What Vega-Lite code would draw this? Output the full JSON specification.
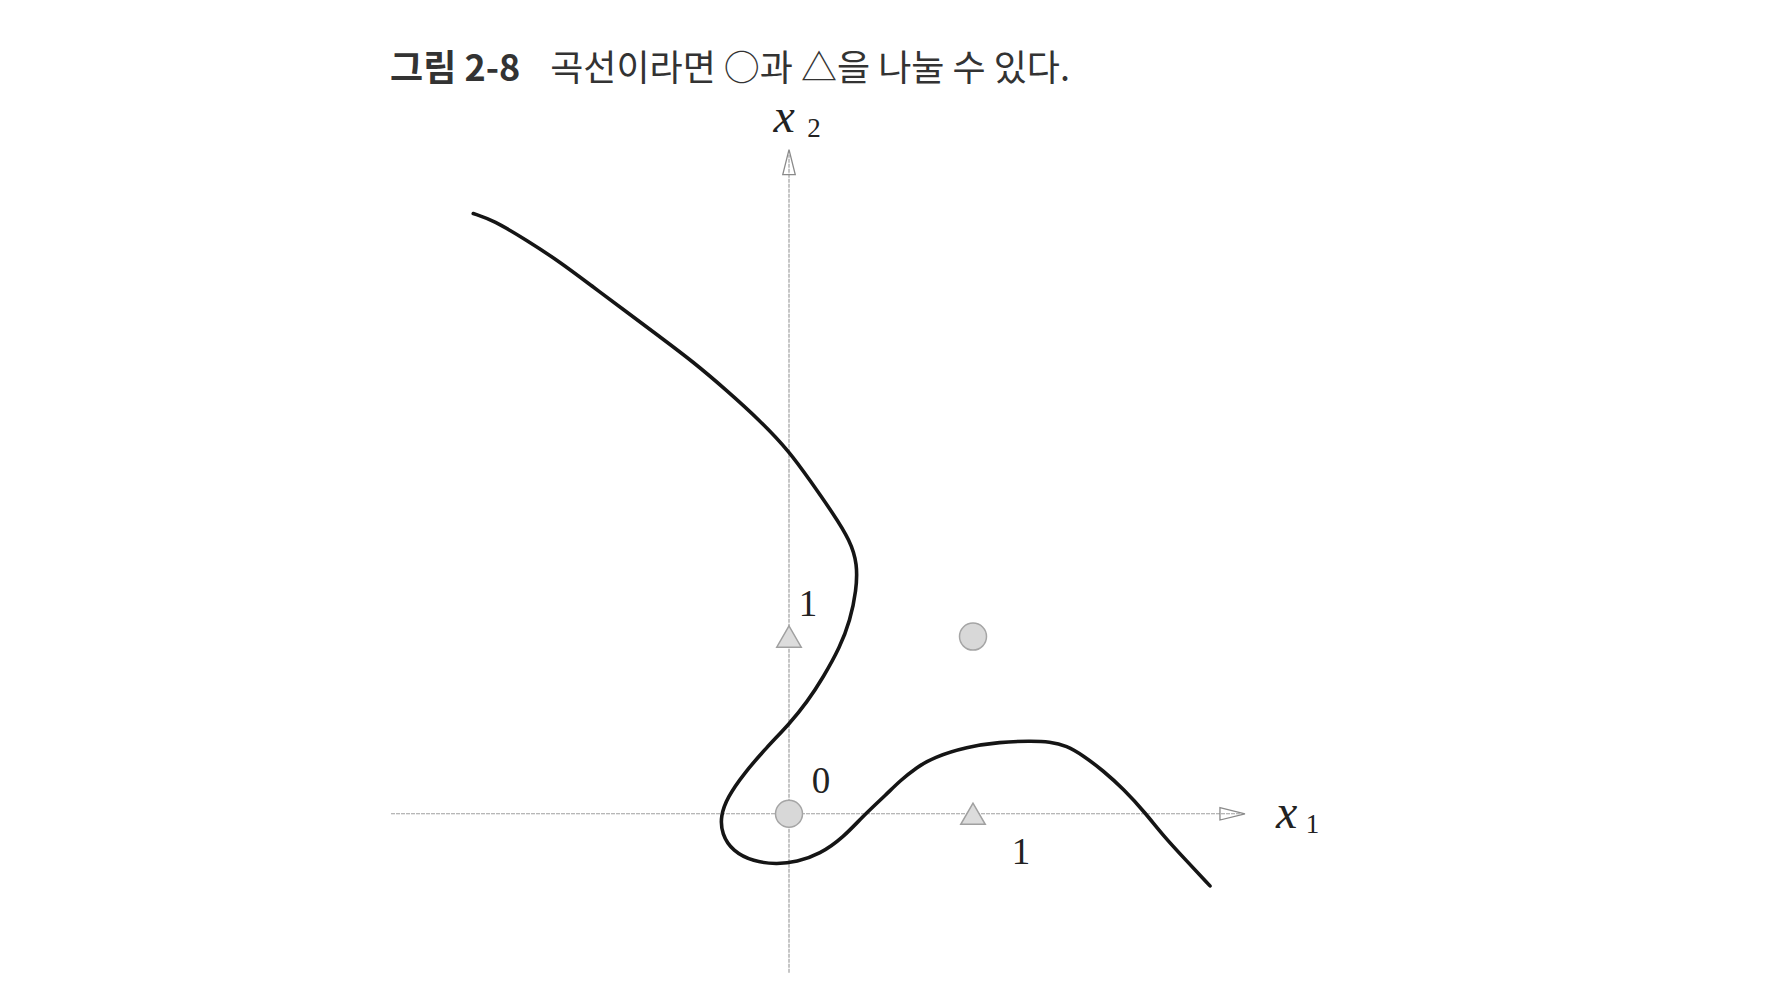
{
  "$schema": "https://vega.github.io/schema/vega-lite/v6.json",
  "width": 1776,
  "height": 992,
  "padding": 0,
  "autosize": {"type": "fit", "contains": "padding"},
  "background": "white",
  "config": {"view": {"stroke": null}},
  "datasets": {
    "curve": [
      {"i": 1, "x": -1.716, "y": 3.388},
      {"i": 2, "x": -1.607, "y": 3.350},
      {"i": 3, "x": -1.426, "y": 3.237},
      {"i": 4, "x": -1.245, "y": 3.115},
      {"i": 5, "x": -1.064, "y": 2.973},
      {"i": 6, "x": -0.882, "y": 2.832},
      {"i": 7, "x": -0.701, "y": 2.691},
      {"i": 8, "x": -0.520, "y": 2.550},
      {"i": 9, "x": -0.339, "y": 2.390},
      {"i": 10, "x": -0.158, "y": 2.220},
      {"i": 11, "x": 0.005, "y": 2.041},
      {"i": 12, "x": 0.114, "y": 1.881},
      {"i": 13, "x": 0.241, "y": 1.693},
      {"i": 14, "x": 0.332, "y": 1.542},
      {"i": 15, "x": 0.372, "y": 1.410},
      {"i": 16, "x": 0.366, "y": 1.260},
      {"i": 17, "x": 0.332, "y": 1.090},
      {"i": 18, "x": 0.277, "y": 0.940},
      {"i": 19, "x": 0.186, "y": 0.770},
      {"i": 20, "x": 0.098, "y": 0.630},
      {"i": 21, "x": 0.002, "y": 0.507},
      {"i": 22, "x": -0.121, "y": 0.375},
      {"i": 23, "x": -0.248, "y": 0.224},
      {"i": 24, "x": -0.335, "y": 0.092},
      {"i": 25, "x": -0.372, "y": -0.011},
      {"i": 26, "x": -0.366, "y": -0.115},
      {"i": 27, "x": -0.306, "y": -0.212},
      {"i": 28, "x": -0.194, "y": -0.270},
      {"i": 29, "x": -0.067, "y": -0.285},
      {"i": 30, "x": 0.042, "y": -0.272},
      {"i": 31, "x": 0.168, "y": -0.228},
      {"i": 32, "x": 0.295, "y": -0.134},
      {"i": 33, "x": 0.404, "y": -0.011},
      {"i": 34, "x": 0.531, "y": 0.111},
      {"i": 35, "x": 0.603, "y": 0.186},
      {"i": 36, "x": 0.694, "y": 0.262},
      {"i": 37, "x": 0.784, "y": 0.318},
      {"i": 38, "x": 0.966, "y": 0.378},
      {"i": 39, "x": 1.147, "y": 0.405},
      {"i": 40, "x": 1.310, "y": 0.411},
      {"i": 41, "x": 1.418, "y": 0.407},
      {"i": 42, "x": 1.509, "y": 0.384},
      {"i": 43, "x": 1.599, "y": 0.328},
      {"i": 44, "x": 1.708, "y": 0.243},
      {"i": 45, "x": 1.817, "y": 0.140},
      {"i": 46, "x": 1.935, "y": 0.007},
      {"i": 47, "x": 2.034, "y": -0.124},
      {"i": 48, "x": 2.161, "y": -0.266},
      {"i": 49, "x": 2.288, "y": -0.407}
    ],
    "circles": [{"x": 0, "y": 0}, {"x": 1, "y": 1}],
    "triangles": [{"x": 0, "y": 1}, {"x": 1, "y": 0}],
    "numbers": [
      {"label": "1", "x": 0.103, "y": 1.119},
      {"label": "0", "x": 0.174, "y": 0.119},
      {"label": "1", "x": 1.261, "y": -0.282}
    ],
    "vars": [
      {"label": "x", "x": 2.704, "y": -0.079},
      {"label": "x", "x": -0.027, "y": 3.847}
    ],
    "subs": [
      {"label": "1", "x": 2.845, "y": -0.107},
      {"label": "2", "x": 0.136, "y": 3.819}
    ]
  },
  "encoding": {
    "x": {"field": "x", "type": "quantitative", "scale": {"domain": [-4.288, 5.364], "nice": false, "zero": false}, "axis": null},
    "y": {"field": "y", "type": "quantitative", "scale": {"domain": [-1.006, 4.593], "nice": false, "zero": false}, "axis": null}
  },
  "layer": [
    {
      "data": {"values": [{"x": -2.163, "x2": 2.45, "y": 0}]},
      "mark": {"type": "rule", "color": "#a0a0a0", "strokeWidth": 1.2, "strokeDash": [4, 1]},
      "encoding": {"x2": {"field": "x2"}}
    },
    {
      "data": {"values": [{"x": 0, "y": -0.898, "y2": 3.72}]},
      "mark": {"type": "rule", "color": "#a0a0a0", "strokeWidth": 1.2, "strokeDash": [4, 1]},
      "encoding": {"y2": {"field": "y2"}}
    },
    {
      "data": {"values": [{"x": 2.41, "y": 0}]},
      "mark": {"type": "point", "shape": "M-1,-0.5L1,0L-1,0.5Z", "size": 625, "filled": false, "stroke": "#8a8a8a", "strokeWidth": 1.3, "opacity": 1}
    },
    {
      "data": {"values": [{"x": 0, "y": 3.678}]},
      "mark": {"type": "point", "shape": "M-0.5,1L0,-1L0.5,1Z", "size": 625, "filled": false, "stroke": "#8a8a8a", "strokeWidth": 1.3, "opacity": 1}
    },
    {
      "data": {"name": "curve"},
      "mark": {"type": "line", "interpolate": "basis", "color": "#151515", "strokeWidth": 3.6, "strokeCap": "round"},
      "encoding": {"order": {"field": "i", "type": "quantitative"}}
    },
    {
      "data": {"name": "circles"},
      "mark": {"type": "point", "shape": "circle", "size": 729, "filled": true, "fill": "#d8d8d8", "stroke": "#a5a5a5", "strokeWidth": 1.5, "opacity": 1}
    },
    {
      "data": {"name": "triangles"},
      "mark": {"type": "point", "shape": "triangle-up", "size": 600, "filled": true, "fill": "#dcdcdc", "stroke": "#a0a0a0", "strokeWidth": 1.5, "opacity": 1}
    },
    {
      "data": {"name": "numbers"},
      "mark": {"type": "text", "font": "Liberation Serif", "fontSize": 37, "color": "#222", "align": "center", "baseline": "alphabetic"},
      "encoding": {"text": {"field": "label"}}
    },
    {
      "data": {"name": "vars"},
      "mark": {"type": "text", "font": "Liberation Serif", "fontStyle": "italic", "fontSize": 48, "color": "#222", "align": "center", "baseline": "alphabetic"},
      "encoding": {"text": {"field": "label"}}
    },
    {
      "data": {"name": "subs"},
      "mark": {"type": "text", "font": "Liberation Serif", "fontSize": 27, "color": "#222", "align": "center", "baseline": "alphabetic"},
      "encoding": {"text": {"field": "label"}}
    },
    {
      "data": {"values": [{"label": "그림 2-8", "x": -2.168, "y": 4.138}]},
      "mark": {"type": "text", "font": "Noto Sans CJK KR", "fontWeight": "bold", "fontSize": 36, "color": "#333", "align": "left", "baseline": "alphabetic"},
      "encoding": {"text": {"field": "label"}}
    },
    {
      "data": {"values": [{"label": "곡선이라면 ○과 △을 나눌 수 있다.", "x": -1.298, "y": 4.138}]},
      "mark": {"type": "text", "font": "Noto Sans CJK KR", "fontSize": 36, "color": "#333", "align": "left", "baseline": "alphabetic"},
      "encoding": {"text": {"field": "label"}}
    }
  ]
}
